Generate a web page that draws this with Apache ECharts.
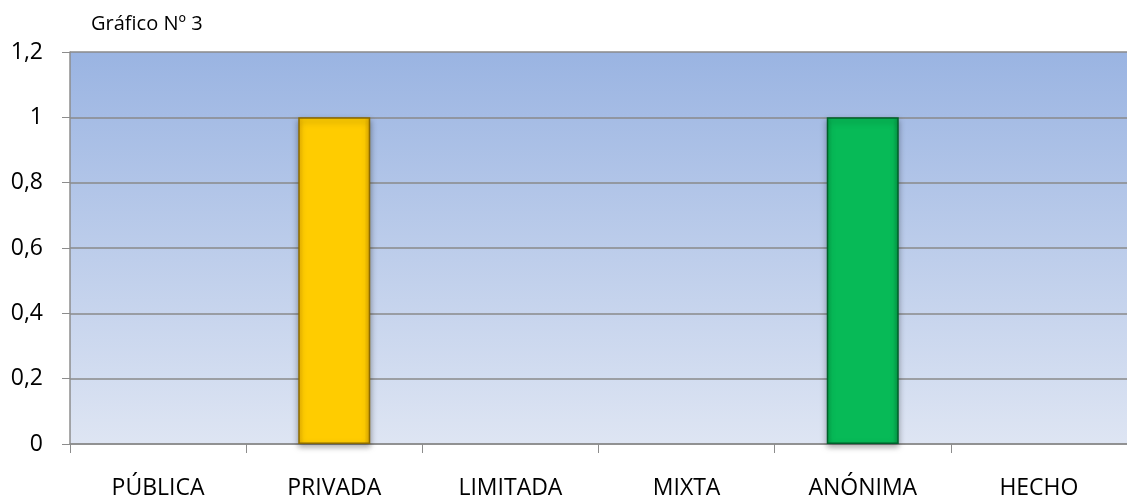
<!DOCTYPE html>
<html>
<head>
<meta charset="utf-8">
<script src="https://cdn.jsdelivr.net/npm/echarts@6/dist/echarts.min.js"></script>
<style>
  html, body { margin: 0; padding: 0; background: #fff; }
  #chart { width: 1127px; height: 502px; }
</style>
</head>
<body>
<div id="chart"></div>
<script>
const categories = ['PÚBLICA', 'PRIVADA', 'LIMITADA', 'MIXTA', 'ANÓNIMA', 'HECHO'];
const values = [0, 1, 0, 0, 1, 0];
const barColors = [null, 'yellow', null, null, 'green', null];

const styles = {
  yellow: {
    color: new echarts.graphic.LinearGradient(0, 0, 1, 0, [
      { offset: 0, color: '#F0B800' },
      { offset: 0.08, color: '#FFCC00' },
      { offset: 0.92, color: '#FFCC00' },
      { offset: 1, color: '#E0AA00' }
    ]),
    borderColor: '#8A6A00'
  },
  green: {
    color: new echarts.graphic.LinearGradient(0, 0, 1, 0, [
      { offset: 0, color: '#05A84C' },
      { offset: 0.08, color: '#07BA57' },
      { offset: 0.92, color: '#07BA57' },
      { offset: 1, color: '#049A45' }
    ]),
    borderColor: '#00602B'
  }
};

const chart = echarts.init(document.getElementById('chart'));

chart.setOption({
  animation: false,
  title: {
    text: 'Gráfico Nº 3',
    left: 86,
    top: 9,
    textStyle: { fontFamily: 'Open Sans', fontSize: 20, fontWeight: 'normal', color: '#000' }
  },
  grid: {
    left: 70, right: 0, top: 52, bottom: 58,
    show: true,
    borderWidth: 0,
    backgroundColor: new echarts.graphic.LinearGradient(0, 0, 0, 1, [
      { offset: 0, color: '#9AB4E2' },
      { offset: 1, color: '#DEE5F3' }
    ])
  },
  xAxis: {
    type: 'category',
    data: categories,
    axisLine: { lineStyle: { color: '#8C8C8C', width: 1.5 } },
    axisTick: { show: true, length: 9, lineStyle: { color: '#8C8C8C' } },
    axisLabel: { fontFamily: 'Open Sans', fontSize: 23, color: '#000', margin: 33 }
  },
  yAxis: {
    type: 'value',
    min: 0,
    max: 1.2,
    interval: 0.2,
    axisLine: { show: true, lineStyle: { color: '#8C8C8C', width: 1.5 } },
    axisTick: { show: true, length: 8, lineStyle: { color: '#8C8C8C' } },
    splitLine: { lineStyle: { color: '#8A8A8A', width: 1.5 } },
    axisLabel: {
      fontFamily: 'Open Sans', fontSize: 23, color: '#000', margin: 27,
      formatter: v => String(Math.round(v * 10) / 10).replace('.', ',')
    }
  },
  series: [{
    type: 'bar',
    barWidth: 72,
    data: values.map((v, i) => {
      const s = styles[barColors[i]];
      if (!s) return v;
      return {
        value: v,
        itemStyle: {
          color: s.color,
          borderColor: s.borderColor,
          borderWidth: 1.5,
          shadowColor: 'rgba(0,0,0,0.35)',
          shadowBlur: 6,
          shadowOffsetY: 3
        }
      };
    })
  }]
});
</script>
</body>
</html>
